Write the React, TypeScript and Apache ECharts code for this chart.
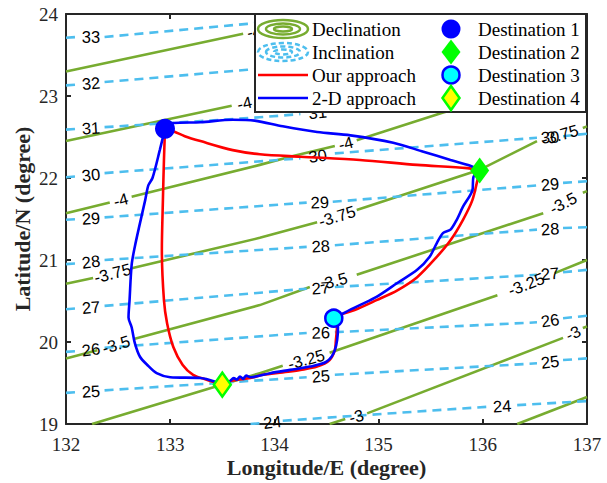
import React, { useEffect, useRef } from 'react';
import * as echarts from 'echarts';

// ---------- axes ----------
const lonRange = [132, 137];
const latRange = [19, 24];

// ---------- declination contours (lon, lat); null = gap for the inline label ----------
const declLevels = ['-4.5', '-4.25', '-4', '-3.75', '-3.5', '-3.25', '-3', '-2.75'];
const declM450 = [[132.0, 23.3], [133.7, 23.76], null, [134.04, 23.85], [134.4, 23.95]];
const declM425 = [[132.0, 22.45], [133.59, 22.88], null, [134.05, 23.01], [134.6, 23.15]];
const declM400 = [[132.0, 21.57], [132.42, 21.7], null, [132.63, 21.77], [133.86, 22.16], [134.15, 22.26], [134.58, 22.39], null, [134.79, 22.46], [135.62, 22.8], [137.0, 23.29]];
const declM375 = [[132.0, 20.71], [132.26, 20.78], null, [132.63, 20.9], [133.86, 21.27], [134.41, 21.46], null, [134.79, 21.61], [135.97, 22.1], [136.52, 22.45], null, [136.96, 22.61], [137.0, 22.63]];
const declM350 = [[132.0, 19.8], [132.3, 19.9], null, [132.66, 20.04], [133.86, 20.45], [134.34, 20.67], null, [134.79, 20.82], [136.58, 21.57], null, [136.96, 21.82], [137.0, 21.84]];
const declM325 = [[132.25, 19.0], [133.86, 19.62], [134.08, 19.71], null, [134.53, 19.87], [136.14, 20.57], null, [136.69, 20.84], [137.0, 21.0]];
const declM300 = [[134.53, 19.0], [134.68, 19.06], null, [134.89, 19.13], [136.77, 20.05], null, [136.96, 20.17], [137.0, 20.19]];
const declM275 = [[136.33, 19.0], [137.0, 19.33]];
const declLines = [declM450, declM425, declM400, declM375, declM350, declM325, declM300, declM275];

// ---------- inclination contours ----------
const inclLevels = ['33', '32', '31', '30', '29', '28', '27', '26', '25', '24'];
const incl33 = [[132.0, 23.71], [132.11, 23.72], null, [132.37, 23.72], [133.74, 23.88], [134.5, 23.98]];
const incl32 = [[132.0, 23.13], [132.11, 23.14], null, [132.37, 23.17], [133.74, 23.32], [134.6, 23.42]];
const incl31 = [[132.0, 22.59], [132.11, 22.6], null, [132.37, 22.62], [133.86, 22.74], [134.25, 22.78], null, [134.58, 22.82], [137.0, 23.05]];
const incl30 = [[132.0, 22.01], [132.11, 22.02], null, [132.37, 22.06], [134.25, 22.24], null, [134.58, 22.3], [136.52, 22.49], null, [136.77, 22.51], [137.0, 22.54]];
const incl29 = [[132.0, 21.49], [132.11, 21.5], null, [132.37, 21.52], [134.31, 21.7], null, [134.56, 21.71], [136.52, 21.91], null, [136.77, 21.94], [137.0, 21.96]];
const incl28 = [[132.0, 20.95], [132.11, 20.96], null, [132.37, 21.0], [134.31, 21.16], null, [134.58, 21.18], [136.52, 21.37], null, [136.77, 21.39], [137.0, 21.4]];
const incl27 = [[132.0, 20.4], [132.11, 20.41], null, [132.37, 20.44], [134.31, 20.65], null, [134.58, 20.67], [136.52, 20.82], null, [136.77, 20.85], [137.0, 20.88]];
const incl26 = [[132.0, 19.88], [132.11, 19.89], null, [132.37, 19.93], [134.31, 20.11], null, [134.58, 20.12], [136.52, 20.24], null, [136.77, 20.29], [137.0, 20.32]];
const incl25 = [[132.0, 19.38], [132.11, 19.39], null, [132.37, 19.41], [134.31, 19.57], null, [134.58, 19.6], [136.52, 19.74], null, [136.77, 19.78], [137.0, 19.8]];
const incl24 = [[133.77, 19.0], [133.88, 19.01], null, [134.08, 19.04], [136.04, 19.21], null, [136.33, 19.23], [137.0, 19.28]];
const inclLines = [incl33, incl32, incl31, incl30, incl29, incl28, incl27, incl26, incl25, incl24];

// ---------- destinations ----------
const dest1 = [132.95, 22.6];
const dest2 = [135.97, 22.09];
const dest3 = [134.57, 20.29];
const dest4 = [133.5, 19.48];

// ---------- our approach (red) ----------
const ourLeg1 = [[132.95, 22.6], [133.03, 22.57], [133.14, 22.51], [133.29, 22.45], [133.6, 22.34], [133.86, 22.29], [134.25, 22.26], [134.82, 22.22], [135.37, 22.16], [135.85, 22.12], [135.97, 22.09]];
const ourLeg2 = [[135.97, 22.09], [135.95, 21.98], [135.9, 21.73], [135.81, 21.49], [135.69, 21.24], [135.56, 21.04], [135.37, 20.79], [135.18, 20.63], [134.98, 20.51], [134.77, 20.39], [134.63, 20.33], [134.57, 20.29]];
const ourLeg3 = [[134.57, 20.29], [134.6, 20.18], [134.59, 20.02], [134.58, 19.9], [134.53, 19.78], [134.41, 19.7], [134.25, 19.66], [134.08, 19.63], [133.89, 19.6], [133.77, 19.56], [133.6, 19.53], [133.5, 19.48]];
const ourLeg4 = [[133.5, 19.48], [133.35, 19.54], [133.22, 19.6], [133.12, 19.72], [133.03, 19.94], [132.97, 20.23], [132.94, 20.51], [132.92, 21.12], [132.93, 21.73], [132.94, 22.22], [132.95, 22.6]];

// ---------- 2-D approach (blue) ----------
const twoDLeg1 = [[132.95, 22.6], [133.03, 22.67], [133.29, 22.68], [133.6, 22.71], [133.81, 22.7], [134.08, 22.63], [134.41, 22.56], [134.73, 22.52], [135.14, 22.43], [135.43, 22.32], [135.69, 22.22], [135.88, 22.15], [135.97, 22.09]];
const twoDLeg2 = [[135.97, 22.09], [135.91, 22.01], [135.9, 21.85], [135.81, 21.65], [135.75, 21.49], [135.69, 21.37], [135.62, 21.33], [135.56, 21.21], [135.49, 21.04], [135.37, 20.88], [135.18, 20.72], [134.98, 20.55], [134.82, 20.45], [134.66, 20.35], [134.57, 20.29]];
const twoDLeg3 = [[134.57, 20.29], [134.61, 20.18], [134.58, 19.9], [134.5, 19.76], [134.34, 19.7], [134.15, 19.66], [133.96, 19.62], [133.77, 19.57], [133.73, 19.59], [133.7, 19.55], [133.67, 19.58], [133.64, 19.54], [133.61, 19.56], [133.57, 19.52], [133.5, 19.48]];
const twoDLeg4 = [[133.5, 19.48], [133.45, 19.51], [133.29, 19.56], [133.0, 19.57], [132.87, 19.62], [132.78, 19.72], [132.71, 19.82], [132.66, 19.99], [132.63, 20.18], [132.6, 20.3], [132.61, 20.51], [132.63, 20.94], [132.66, 21.16], [132.71, 21.45], [132.76, 21.73], [132.79, 21.91], [132.83, 22.0], [132.9, 22.34], [132.95, 22.6]];

// ---------- layout ----------
const W = 607;
const H = 483;
const G = { left: 66, right: 20, top: 14, bottom: 59 };
const PX_LON = (W - G.left - G.right) / (lonRange[1] - lonRange[0]);
const PX_LAT = (H - G.top - G.bottom) / (latRange[1] - latRange[0]);

const GREEN = '#77AC30';
const LBLUE = '#4DBEEE';
const SERIF = '"Liberation Serif", "Times New Roman", serif';
const SANS = '"Liberation Sans", Arial, Helvetica, sans-serif';

type P = number[] | null;

function segmentsOf(line: P[]) {
  const segs: number[][][] = [];
  let cur: number[][] = [];
  for (const p of line) {
    if (p === null) {
      if (cur.length) segs.push(cur);
      cur = [];
    } else cur.push(p);
  }
  if (cur.length) segs.push(cur);
  return segs;
}

function labelsOf(line: P[], text: string) {
  const out: any[] = [];
  for (let i = 1; i < line.length - 1; i++) {
    if (line[i] === null) {
      const a = line[i - 1] as number[];
      const b = line[i + 1] as number[];
      const ang = (Math.atan2((b[1] - a[1]) * PX_LAT, (b[0] - a[0]) * PX_LON) * 180) / Math.PI;
      out.push({
        value: [(a[0] + b[0]) / 2, (a[1] + b[1]) / 2],
        label: { rotate: ang, formatter: text },
      });
    }
  }
  return out;
}

function contourSeries(lines: P[][], levels: string[], color: string, dashed: boolean) {
  const segs: any[] = [];
  const labels: any[] = [];
  lines.forEach((ln, i) => {
    segmentsOf(ln).forEach((s) => segs.push({ coords: s }));
    labels.push(...labelsOf(ln, levels[i]));
  });
  return [
    {
      type: 'lines',
      coordinateSystem: 'cartesian2d',
      polyline: true,
      silent: true,
      z: 1,
      data: segs,
      lineStyle: { color, width: 2.6, opacity: 1, type: dashed ? [9, 6] : 'solid', cap: 'butt' },
    },
    {
      type: 'scatter',
      silent: true,
      z: 1,
      symbolSize: 1,
      itemStyle: { color: 'rgba(0,0,0,0)' },
      data: labels,
      label: {
        show: true,
        position: 'inside',
        color: '#000',
        opacity: 1,
        textBorderWidth: 0,
        fontSize: 16.5,
        fontFamily: SANS,
      },
    },
  ];
}

function pathSeries(data: number[][], color: string, z: number) {
  return {
    type: 'line',
    data,
    z,
    symbol: 'none',
    showSymbol: false,
    smooth: 0.3,
    silent: true,
    lineStyle: { color, width: 2.6 },
  };
}

const axisLine = { show: true, onZero: false, lineStyle: { color: '#262626', width: 2 } };
const axisTick = { show: true, inside: true, length: 5, lineStyle: { color: '#262626', width: 2 } };

function legendGraphics() {
  const els: any[] = [];
  const Z = 100;
  const lx = 255, ly = 14, lw = 331, lh = 98;
  els.push({ type: 'rect', z: Z, shape: { x: lx, y: ly, width: lw, height: lh }, style: { fill: '#fff', stroke: '#262626', lineWidth: 2 } });
  const rows = [29, 52, 75, 98];
  const icx = 283;
  [[25, 9], [17, 5.5], [9, 2.5]].forEach(([rx, ry]) =>
    els.push({ type: 'ellipse', z: Z + 1, shape: { cx: icx, cy: rows[0], rx, ry }, style: { fill: 'none', stroke: GREEN, lineWidth: 2.5 } })
  );
  [[25, 9], [17, 5.5], [9, 2.5]].forEach(([rx, ry]) =>
    els.push({ type: 'ellipse', z: Z + 1, shape: { cx: icx, cy: rows[1], rx, ry }, style: { fill: 'none', stroke: LBLUE, lineWidth: 2.5, lineDash: [5, 3] } })
  );
  els.push({ type: 'line', z: Z + 1, shape: { x1: 258, y1: rows[2], x2: 308, y2: rows[2] }, style: { stroke: '#FF0000', lineWidth: 2.6 } });
  els.push({ type: 'line', z: Z + 1, shape: { x1: 258, y1: rows[3], x2: 308, y2: rows[3] }, style: { stroke: '#0000FF', lineWidth: 2.6 } });
  const leftTexts = ['Declination', 'Inclination', 'Our approach', '2-D approach'];
  leftTexts.forEach((t, i) =>
    els.push({ type: 'text', z: Z + 1, x: 312, y: rows[i], style: { text: t, font: `19px ${SERIF}`, fill: '#000', textAlign: 'left', textVerticalAlign: 'middle', verticalAlign: 'middle' } })
  );
  const mx = 451;
  els.push({ type: 'circle', z: Z + 1, shape: { cx: mx, cy: rows[0], r: 9.5 }, style: { fill: '#0000FF' } });
  els.push({ type: 'polygon', z: Z + 1, shape: { points: [[mx, rows[1] - 12.5], [mx + 9.5, rows[1]], [mx, rows[1] + 12.5], [mx - 9.5, rows[1]]] }, style: { fill: '#00FF00' } });
  els.push({ type: 'circle', z: Z + 1, shape: { cx: mx, cy: rows[2], r: 8.5 }, style: { fill: '#00FFFF', stroke: '#0000FF', lineWidth: 2.5 } });
  els.push({ type: 'polygon', z: Z + 1, shape: { points: [[mx, rows[3] - 12], [mx + 8.5, rows[3]], [mx, rows[3] + 12], [mx - 8.5, rows[3]]] }, style: { fill: '#FFFF00', stroke: '#00FF00', lineWidth: 2.5 } });
  ['Destination 1', 'Destination 2', 'Destination 3', 'Destination 4'].forEach((t, i) =>
    els.push({ type: 'text', z: Z + 1, x: 478, y: rows[i], style: { text: t, font: `19px ${SERIF}`, fill: '#000', textAlign: 'left', textVerticalAlign: 'middle', verticalAlign: 'middle' } })
  );
  els.push({ type: 'text', z: Z, x: (G.left + W - G.right) / 2, y: 467, style: { text: 'Longitude/E (degree)', font: `bold 22px ${SERIF}`, fill: '#262626', textAlign: 'center', textVerticalAlign: 'middle', verticalAlign: 'middle' } });
  els.push({ type: 'text', z: Z, x: 22, y: (G.top + H - G.bottom) / 2, rotation: Math.PI / 2, style: { text: 'Latitude/N (degree)', font: `bold 22px ${SERIF}`, fill: '#262626', textAlign: 'center', textVerticalAlign: 'middle', verticalAlign: 'middle' } });
  return els;
}

export default function App() {
  const ref = useRef<HTMLDivElement>(null);
  useEffect(() => {
    if (!ref.current) return;
    const chart = echarts.init(ref.current, null, { renderer: 'svg' });
    const xBase = { type: 'value', min: lonRange[0], max: lonRange[1], interval: 1, splitLine: { show: false }, axisLine, axisTick };
    const yBase = { type: 'value', min: latRange[0], max: latRange[1], interval: 1, splitLine: { show: false }, axisLine, axisTick };
    const option: any = {
      animation: false,
      backgroundColor: '#fff',
      grid: { left: G.left, right: G.right, top: G.top, bottom: G.bottom, containLabel: false },
      xAxis: [
        { ...xBase, position: 'bottom', axisLabel: { color: '#262626', fontSize: 19, fontFamily: SERIF, margin: 11 } },
        { ...xBase, position: 'top', axisLabel: { show: false } },
      ],
      yAxis: [
        { ...yBase, position: 'left', axisLabel: { color: '#262626', fontSize: 19, fontFamily: SERIF, margin: 8 } },
        { ...yBase, position: 'right', axisLabel: { show: false } },
      ],
      series: [
        ...contourSeries(declLines, declLevels, GREEN, false),
        ...contourSeries(inclLines, inclLevels, LBLUE, true),
        pathSeries(ourLeg1, '#FF0000', 3),
        pathSeries(ourLeg2, '#FF0000', 3),
        pathSeries(ourLeg3, '#FF0000', 3),
        pathSeries(ourLeg4, '#FF0000', 3),
        pathSeries(twoDLeg1, '#0000FF', 4),
        pathSeries(twoDLeg2, '#0000FF', 4),
        pathSeries(twoDLeg3, '#0000FF', 4),
        pathSeries(twoDLeg4, '#0000FF', 4),
        { type: 'scatter', z: 5, silent: true, data: [dest1], symbol: 'circle', symbolSize: 20, itemStyle: { color: '#0000FF', opacity: 1 } },
        { type: 'scatter', z: 5, silent: true, data: [dest2], symbol: 'diamond', symbolSize: [19, 26], itemStyle: { color: '#00FF00', opacity: 1 } },
        { type: 'scatter', z: 5, silent: true, data: [dest3], symbol: 'circle', symbolSize: 17, itemStyle: { color: '#00FFFF', borderColor: '#0000FF', borderWidth: 2.5, opacity: 1 } },
        { type: 'scatter', z: 5, silent: true, data: [dest4], symbol: 'diamond', symbolSize: [17, 24], itemStyle: { color: '#FFFF00', borderColor: '#00FF00', borderWidth: 2.5, opacity: 1 } },
      ],
      graphic: legendGraphics(),
    };
    chart.setOption(option);
    return () => chart.dispose();
  }, []);
  return <div ref={ref} style={{ position: 'absolute', left: 0, top: 0, width: W, height: H, background: '#fff' }} />;
}
